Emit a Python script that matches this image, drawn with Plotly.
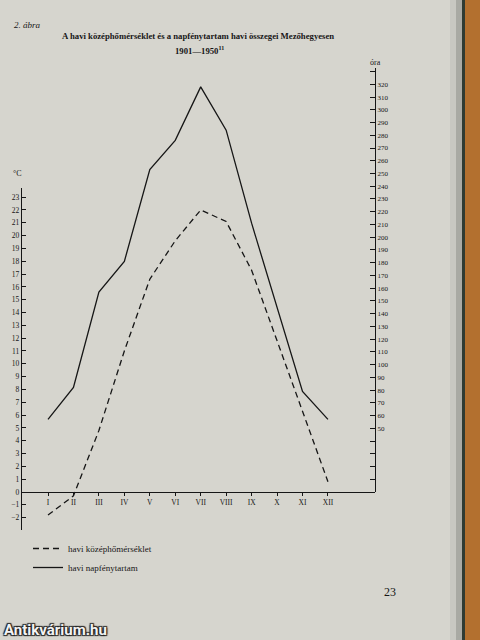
import plotly.graph_objects as go

# ---- data ----
months = ["I", "II", "III", "IV", "V", "VI", "VII", "VIII", "IX", "X", "XI", "XII"]
month_pos = list(range(1, 13))
temperature_c = [-1.8, -0.3, 4.8, 11.0, 16.6, 19.6, 22.0, 21.1, 17.3, 11.8, 6.2, 0.8]
sunshine_hours = [57, 82, 157, 181, 253, 276, 318, 284, 211, 146, 79, 57]
temp_ticks = list(range(-2, 24))
hour_label_ticks = list(range(50, 330, 10))

# ---- geometry helpers (pixel -> paper) ----
L, R, T, B = 22, 375, 60, 530
W, H = R - L, B - T
def xp(px):
    return (px - L) / W
def yp(py):
    return (B - py) / H

zero_px = 492
temp_scale = 12.82   # px per degree
hour_scale = 1.274   # px per hour

SERIF = "Liberation Serif"
INK = "#161616"
BG = "#d6d5ce"

fig = go.Figure()
fig.add_trace(go.Scatter(
    x=month_pos, y=temperature_c, mode="lines", name="havi középhőmérséklet",
    line=dict(color=INK, width=1.3, dash="6px,4px"), yaxis="y"))
fig.add_trace(go.Scatter(
    x=month_pos, y=sunshine_hours, mode="lines", name="havi napfénytartam",
    line=dict(color=INK, width=1.3), yaxis="y2"))

y_top_px = 188
temp_range = [-(B - zero_px) / temp_scale, (zero_px - y_top_px) / temp_scale]
h_top_px = 68
hour_range = [0, (zero_px - h_top_px) / hour_scale]

fig.update_layout(
    width=480, height=640,
    margin=dict(l=L, r=480 - R, t=T, b=640 - B, autoexpand=False),
    paper_bgcolor=BG, plot_bgcolor="rgba(0,0,0,0)",
    font=dict(family=SERIF, color=INK),
    showlegend=True,
    legend=dict(x=xp(28), y=yp(534), xanchor="left", yanchor="top",
                bgcolor="rgba(0,0,0,0)", font=dict(family=SERIF, size=9, color=INK),
                tracegroupgap=0, itemwidth=30),
    xaxis=dict(range=[(L - 48) / 25.45 + 1, (R - 48) / 25.45 + 1],
               tickvals=month_pos, ticktext=months,
               ticks="outside", ticklen=3, tickwidth=1, tickcolor=INK,
               showline=True, linecolor=INK, linewidth=1.2,
               showgrid=False, zeroline=False,
               anchor="free", position=yp(zero_px),
               tickfont=dict(family=SERIF, size=7.5, color=INK),
               automargin=False),
    yaxis=dict(domain=[0, yp(y_top_px)], range=temp_range,
               tickvals=temp_ticks, ticks="inside", ticklen=4, tickwidth=1,
               tickcolor=INK, showline=True, linecolor=INK, linewidth=1.4,
               showgrid=False, zeroline=False,
               tickfont=dict(family=SERIF, size=7.5, color=INK),
               automargin=False),
    yaxis2=dict(domain=[yp(zero_px), yp(h_top_px)], range=hour_range,
                anchor="x", side="right",
                tickvals=hour_label_ticks,
                ticks="inside", ticklen=5, tickwidth=1, tickcolor=INK,
                minor=dict(ticks="inside", ticklen=5, tickwidth=1, tickcolor=INK,
                           tick0=0, dtick=10, showgrid=False),
                showline=True, linecolor=INK, linewidth=1.3,
                showgrid=False, zeroline=False,
                tickfont=dict(family=SERIF, size=7, color=INK),
                automargin=False),
)

# book edge on the right (photo background)
edge = [(450, 456, "#c8c8c2"), (456, 462, "#a9aaa4"), (462, 465, "#2f3b33"),
        (465, 481, "#b3702f")]
for x0, x1, c in edge:
    fig.add_shape(type="rect", xref="paper", yref="paper",
                  x0=xp(x0), x1=xp(x1), y0=yp(641), y1=yp(-1),
                  fillcolor=c, line=dict(width=0), layer="below")

ann = [
    dict(text="<i>2. ábra</i>", x=xp(12), y=yp(25), xanchor="left", size=9),
    dict(text="<b>A havi középhőmérséklet és a napfénytartam havi összegei Mezőhegyesen</b>",
         x=xp(197.5), y=yp(36), xanchor="center", size=8.7),
    dict(text="<b>1901—1950<sup>11</sup></b>", x=xp(199), y=yp(50), xanchor="center", size=8.7),
    dict(text="°C", x=xp(17), y=yp(173), xanchor="center", size=8),
    dict(text="óra", x=xp(375), y=yp(62), xanchor="center", size=8),
    dict(text="23", x=xp(390), y=yp(592), xanchor="center", size=12),
]
for a in ann:
    fig.add_annotation(text=a["text"], x=a["x"], y=a["y"], xref="paper", yref="paper",
                       xanchor=a["xanchor"], yanchor="middle", showarrow=False,
                       font=dict(family=SERIF, size=a["size"], color=INK))

fig.add_annotation(text="<b>Antikvárium.hu</b>", x=xp(2), y=yp(630), xref="paper", yref="paper",
                   xanchor="left", yanchor="middle", showarrow=False,
                   font=dict(family="Roboto", size=15, color="#f4f4f4",
                             shadow="1px 1px 1px #222, -1px -1px 1px #222, 1px -1px 1px #222, -1px 1px 1px #222"))

fig.write_html("out.html", config={"displayModeBar": False},
               post_script="document.body.style.margin='0';document.body.style.padding='0';")
